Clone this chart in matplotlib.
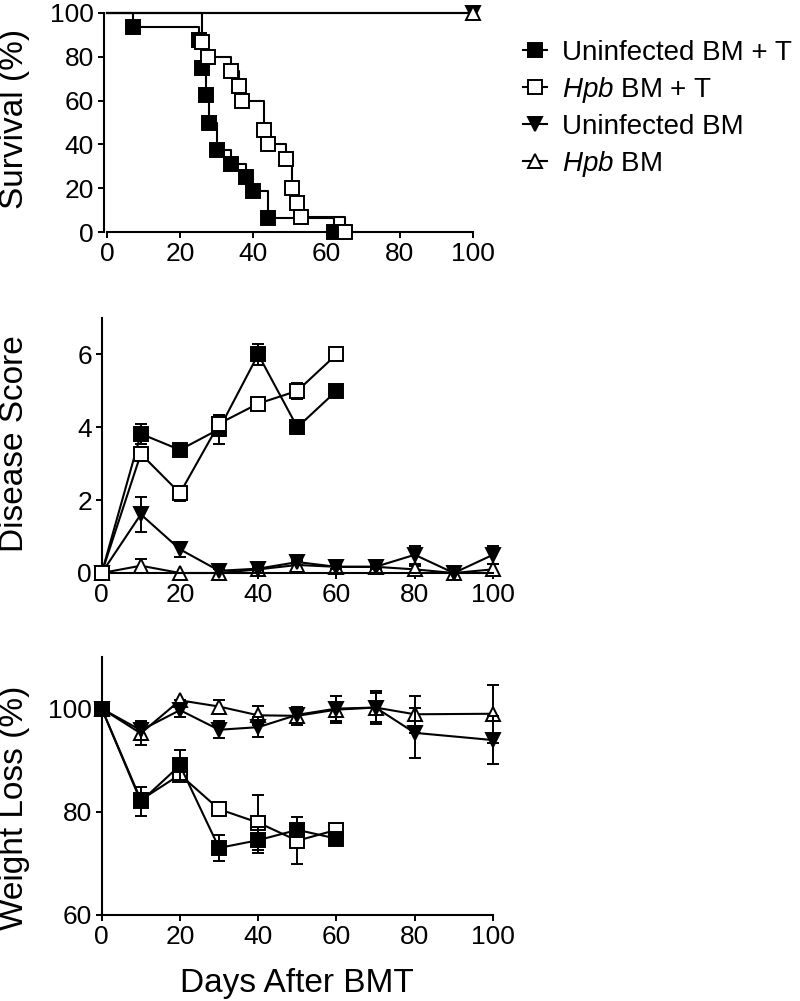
import matplotlib
matplotlib.use('Agg')
import matplotlib.pyplot as plt
from matplotlib.lines import Line2D

plt.rcParams['font.family'] = ['Liberation Sans', 'DejaVu Sans']
plt.rcParams['mathtext.fontset'] = 'custom'
plt.rcParams['mathtext.it'] = 'Liberation Sans:italic'
plt.rcParams['mathtext.rm'] = 'Liberation Sans'

group_labels = ['Uninfected BM + T', '$Hpb$ BM + T', 'Uninfected BM', '$Hpb$ BM']

# survival (Kaplan-Meier steps): event day and survival after the event
surv_days = [
    [7, 25, 26, 27, 28, 30, 34, 38, 40, 44, 62],
    [26, 27.5, 34, 36, 37, 43, 44, 49, 50.5, 52, 53, 65],
    [100],
    [100],
]
surv_pct = [
    [93.75, 87.5, 75, 62.5, 50, 37.5, 31.25, 25, 18.75, 6.25, 0],
    [86.67, 80, 73.33, 66.67, 60, 46.67, 40, 33.33, 20, 13.33, 6.67, 0],
    [100],
    [100],
]

# disease score
ds_days_sq = [0, 10, 20, 30, 40, 50, 60]
ds_days_tri = [0, 10, 20, 30, 40, 50, 60, 70, 80, 90, 100]
ds_ubt = [0, 3.82, 3.38, 3.95, 6.0, 4.0, 5.0]
ds_ubt_err = [0, 0.27, 0.08, 0.4, 0.29, 0, 0]
ds_hbt = [0, 3.27, 2.19, 4.1, 4.65, 5.0, 6.0]
ds_hbt_err = [0, 0.19, 0.2, 0.25, 0.12, 0.22, 0]
ds_ubm = [0, 1.61, 0.65, 0.06, 0.12, 0.3, 0.17, 0.17, 0.5, 0, 0.5]
ds_ubm_err = [0, 0.48, 0.2, 0.05, 0.05, 0.08, 0.05, 0.05, 0.24, 0, 0.24]
ds_hbm = [0, 0.2, 0, 0, 0.1, 0.22, 0.17, 0.17, 0.1, 0, 0.1]
ds_hbm_err = [0, 0.18, 0, 0, 0.05, 0.1, 0.05, 0.05, 0.1, 0, 0.15]

# weight loss
wl_days_sq = [0, 10, 20, 30, 40, 50, 60]
wl_days_tri = [0, 10, 20, 30, 40, 50, 60, 70, 80, 100]
wl_ubt = [100, 82, 89, 73, 74.5, 76.5, 74.8]
wl_ubt_err = [0, 2.8, 2.9, 2.6, 2.5, 1.3, 0.5]
wl_hbt = [100, 82.3, 87.2, 80.5, 77.9, 74.4, 76.5]
wl_hbt_err = [0, 1.2, 1.0, 1.3, 5.3, 4.5, 0.5]
wl_ubm = [100, 95.8, 99.7, 95.9, 96.4, 98.8, 100, 100.2, 95.3, 93.9]
wl_ubm_err = [0, 1.8, 1.3, 1.6, 1.9, 1.6, 2.5, 2.8, 4.8, 4.6]
wl_hbm = [100, 95.2, 101.6, 100.4, 98.7, 98.6, 99.8, 100.2, 98.9, 99.0]
wl_hbm_err = [0, 2.2, 0, 1.2, 1.8, 1.7, 2.6, 3.2, 3.6, 5.6]

markers = ['s', 's', 'v', '^']
faces = ['black', 'white', 'black', 'white']
MS = 10
LW = 1.5

fig = plt.figure(figsize=(8, 10.01), dpi=100)
W, H = 800, 1001


def add_axes(left, right, top, bottom):
    return fig.add_axes([left / W, 1 - bottom / H, (right - left) / W, (bottom - top) / H])


def style(ax):
    for s in ['top', 'right']:
        ax.spines[s].set_visible(False)
    for s in ['left', 'bottom']:
        ax.spines[s].set_linewidth(1.5)
    ax.tick_params(direction='out', length=4, width=1.4, labelsize=19, pad=3)
    ax.set_xlim(0, 100)
    ax.set_xticks([0, 20, 40, 60, 80, 100])


# survival
ax1 = add_axes(107, 473, 13, 232)
style(ax1)
ax1.spines['left'].set_position(('outward', 2.5))
ax1.set_ylim(0, 100)
ax1.set_yticks([0, 20, 40, 60, 80, 100])
for i in range(4):
    ax1.plot([0] + surv_days[i], [100] + surv_pct[i], drawstyle='steps-post',
             color='black', lw=LW, clip_on=False, zorder=2)
for i in range(4):
    ax1.plot(surv_days[i], surv_pct[i], ls='none', marker=markers[i], ms=MS,
             mfc=faces[i], mec='black', mew=1.4, clip_on=False, zorder=3 + i)

# disease score
ax2 = add_axes(101.7, 493, 318, 573)
style(ax2)
ax2.set_ylim(0, 7)
ax2.set_yticks([0, 2, 4, 6])
ds = [(ds_days_sq, ds_ubt, ds_ubt_err), (ds_days_sq, ds_hbt, ds_hbt_err),
      (ds_days_tri, ds_ubm, ds_ubm_err), (ds_days_tri, ds_hbm, ds_hbm_err)]
for i, (x, y, e) in enumerate(ds):
    ax2.errorbar(x, y, yerr=e, color='black', lw=LW, elinewidth=1.4, capsize=4.5,
                 capthick=1.4, marker=markers[i], ms=MS, mfc=faces[i], mec='black',
                 mew=1.4, clip_on=False, zorder=[4, 5, 3, 2][i])

# weight loss
ax3 = add_axes(101.7, 493, 657, 915)
style(ax3)
ax3.set_ylim(60, 110)
ax3.set_yticks([60, 80, 100])
wl = [(wl_days_sq, wl_ubt, wl_ubt_err), (wl_days_sq, wl_hbt, wl_hbt_err),
      (wl_days_tri, wl_ubm, wl_ubm_err), (wl_days_tri, wl_hbm, wl_hbm_err)]
for i, (x, y, e) in enumerate(wl):
    ax3.errorbar(x, y, yerr=e, color='black', lw=LW, elinewidth=1.4, capsize=4.5,
                 capthick=1.4, marker=markers[i], ms=MS, mfc=faces[i], mec='black',
                 mew=1.4, clip_on=False, zorder=[5, 4, 3, 2][i])

fig.text(15 / W, 1 - 119 / H, 'Survival (%)', rotation=90, ha='center', va='center', fontsize=24)
fig.text(15 / W, 1 - 444 / H, 'Disease Score', rotation=90, ha='center', va='center', fontsize=24)
fig.text(15 / W, 1 - 808 / H, 'Weight Loss (%)', rotation=90, ha='center', va='center', fontsize=24)
fig.text(297 / W, 1 - 992 / H, 'Days After BMT', ha='center', va='baseline', fontsize=24)

handles = [Line2D([], [], color='black', lw=LW, marker=markers[i], ms=MS,
                  mfc=faces[i], mec='black', mew=1.4) for i in range(4)]
fig.legend(handles, group_labels, loc='upper left', bbox_to_anchor=(523 / W, 1 - 40 / H),
           frameon=False, fontsize=20, handlelength=0.85, handletextpad=0.55,
           labelspacing=0.32, borderpad=0, borderaxespad=0)

fig.savefig('out.png', dpi=100)
